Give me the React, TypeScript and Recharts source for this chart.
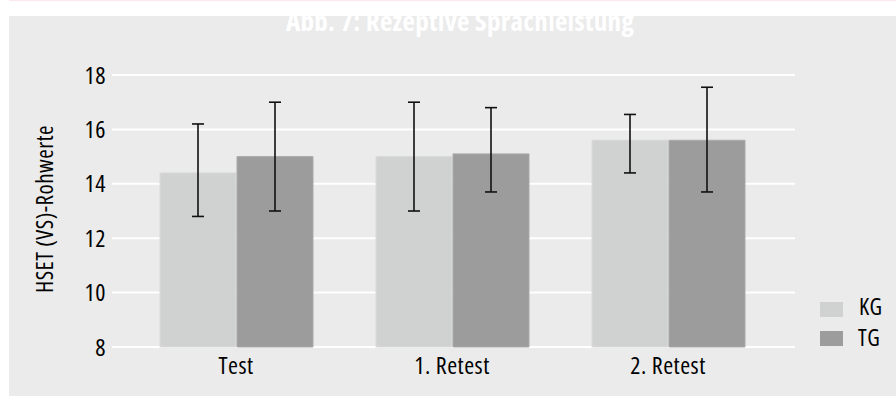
import React from 'react';
import { BarChart, Bar, XAxis, YAxis, CartesianGrid, ErrorBar, Label } from 'recharts';

const categories = ['Test', '1. Retest', '2. Retest'];
const kgMeans = [14.4, 15.0, 15.6];
const tgMeans = [15.0, 15.1, 15.6];
const kgLower = [12.8, 13.0, 14.4];
const kgUpper = [16.2, 17.0, 16.55];
const tgLower = [13.0, 13.7, 13.7];
const tgUpper = [17.0, 16.8, 17.55];
const yTicks = [8, 10, 12, 14, 16, 18];

const FONT = "'Open Sans', sans-serif";
const STRETCH = '75%';
const KG_COLOR = '#d0d2d1';
const TG_COLOR = '#9c9c9c';

const data = categories.map((name, i) => ({
  name,
  KG: kgMeans[i],
  TG: tgMeans[i],
  kgErr: [kgMeans[i] - kgLower[i], kgUpper[i] - kgMeans[i]],
  tgErr: [tgMeans[i] - tgLower[i], tgUpper[i] - tgMeans[i]],
}));

const tickStyle = { fill: '#000', fontSize: 24, fontFamily: FONT, fontStretch: STRETCH, letterSpacing: 0.5 };

const YLabel = ({ viewBox }: any) => {
  const cy = viewBox.y + viewBox.height / 2 - 2;
  return (
    <text
      x={53}
      y={cy}
      transform={`rotate(-90, 53, ${cy})`}
      textAnchor="middle"
      fill="#000"
      fontSize={23}
      fontFamily={FONT}
      style={{ fontStretch: STRETCH, letterSpacing: 0.5 }}
    >
      HSET (VS)-Rohwerte
    </text>
  );
};

const App: React.FC = () => {
  return (
    <div style={{ position: 'absolute', left: 0, top: 0, width: 896, height: 396, background: '#fff', overflow: 'hidden' }}>
      <div style={{ position: 'absolute', left: 9, top: 0, width: 887, height: 1, background: '#fbe8ee' }} />
      <div style={{ position: 'absolute', left: 9, top: 16, width: 887, height: 380, background: '#ebebeb' }} />
      <div style={{ position: 'absolute', left: 0, top: 0 }}>
        <BarChart
          width={896}
          height={396}
          data={data}
          margin={{ top: 75, right: 101, bottom: 19, left: 0 }}
          barSize={76}
          barGap={1}
        >
          <text
            x={460}
            y={31}
            textAnchor="middle"
            fill="#fff"
            fontSize={27}
            fontWeight="bold"
            fontFamily={FONT}
            style={{ fontStretch: STRETCH, letterSpacing: 0.3 }}
          >
            Abb. 7: Rezeptive Sprachleistung
          </text>
          <CartesianGrid vertical={false} stroke="#ffffff" strokeWidth={2} />
          <XAxis
            dataKey="name"
            height={30}
            axisLine={false}
            tickLine={false}
            tickSize={0}
            tickMargin={10}
            padding={{ left: 16, right: 19 }}
            tick={tickStyle}
          />
          <YAxis
            domain={[8, 18]}
            ticks={yTicks}
            axisLine={false}
            tickLine={false}
            tickSize={0}
            tickMargin={6}
            width={112}
            tick={tickStyle}
          >
            <Label content={<YLabel />} />
          </YAxis>
          <Bar dataKey="KG" fill={KG_COLOR} stroke="#d9d9d9" strokeWidth={1} isAnimationActive={false}>
            <ErrorBar dataKey="kgErr" width={6} strokeWidth={1.6} stroke="#111" direction="y" />
          </Bar>
          <Bar dataKey="TG" fill={TG_COLOR} stroke="#a9a9a9" strokeWidth={1} isAnimationActive={false}>
            <ErrorBar dataKey="tgErr" width={6} strokeWidth={1.6} stroke="#111" direction="y" />
          </Bar>
        </BarChart>
      </div>
      <div style={{ position: 'absolute', left: 820, top: 302, width: 23, height: 15, background: KG_COLOR }} />
      <div style={{ position: 'absolute', left: 820, top: 331, width: 23, height: 15, background: TG_COLOR }} />
      <div style={{ position: 'absolute', left: 859, top: 292, fontSize: 23, lineHeight: '28px', fontFamily: FONT, fontStretch: STRETCH, letterSpacing: 0.5, color: '#000' }}>KG</div>
      <div style={{ position: 'absolute', left: 858, top: 323, fontSize: 23, lineHeight: '28px', fontFamily: FONT, fontStretch: STRETCH, letterSpacing: 0.5, color: '#000' }}>TG</div>
    </div>
  );
};

export default App;
